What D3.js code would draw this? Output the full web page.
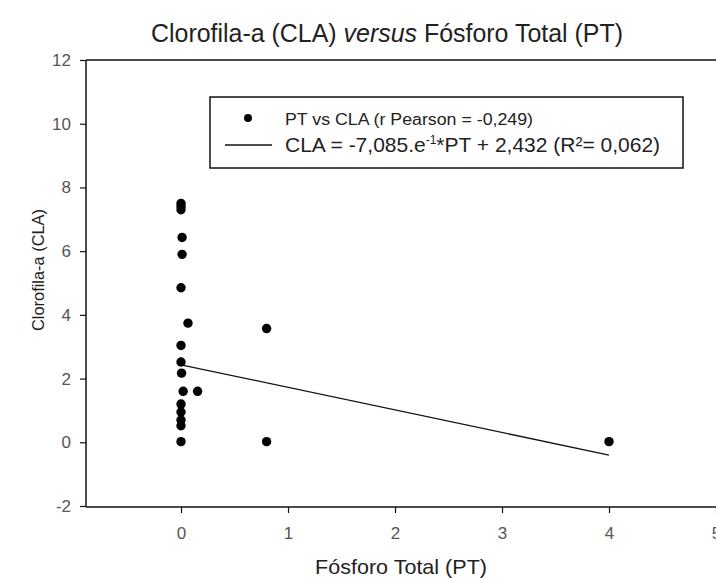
<!DOCTYPE html>
<html><head><meta charset="utf-8">
<script src="https://cdn.jsdelivr.net/npm/d3@7"></script>
<style>body{margin:0;background:#fff}svg{display:block}text{font-family:"Liberation Sans",Arial,sans-serif}</style>
</head><body><svg id="c" width="716" height="578"></svg>
<script>
const ptValues  = [0, 0, 0, 0.01, 0.01, 0, 0.065, 0, 0, 0.005, 0.02, 0.155, 0, 0, 0, 0, 0, 0.8, 0.8, 4.0];
const claValues = [7.5, 7.3, 7.4, 6.43, 5.9, 4.85, 3.74, 3.04, 2.52, 2.17, 1.6, 1.6, 1.2, 0.95, 0.7, 0.52, 0.02, 3.57, 0.02, 0.02];
const fitSlope = -0.7085, fitIntercept = 2.432;
const fitRange = [0, 4];
const xTicks = [0, 1, 2, 3, 4, 5];
const yTicks = [-2, 0, 2, 4, 6, 8, 10, 12];

const svg = d3.select("#c");
const x = d3.scaleLinear().domain([-0.888, 5]).range([86, 716]);
const y = d3.scaleLinear().domain([-2, 12]).range([506, 60]);
const fmt = d => String(d);

// title
const t = svg.append("text").attr("x", 387).attr("y", 42).attr("text-anchor", "middle")
  .attr("font-size", 25).attr("fill", "#222").attr("textLength", 472).attr("lengthAdjust", "spacingAndGlyphs");
t.append("tspan").text("Clorofila-a (CLA) ");
t.append("tspan").attr("font-style", "italic").text("versus");
t.append("tspan").text(" Fósforo Total (PT)");

// frame top
svg.append("line").attr("x1", 86).attr("x2", 716).attr("y1", 60).attr("y2", 60).attr("stroke", "#111").attr("stroke-width", 1.5);

// axes
const xAxis = svg.append("g").attr("transform", "translate(0,507)")
  .call(d3.axisBottom(x).tickValues(xTicks).tickSize(6).tickPadding(14).tickFormat(fmt));
const yAxis = svg.append("g").attr("transform", "translate(86,0)")
  .call(d3.axisLeft(y).tickValues(yTicks).tickSize(6).tickPadding(9).tickFormat(fmt));
[xAxis, yAxis].forEach(g => {
  g.select(".domain").attr("stroke", "#111").attr("stroke-width", 1.5);
  g.selectAll(".tick line").attr("stroke", "#111").attr("stroke-width", 1.2);
  g.selectAll(".tick text").attr("font-size", 17).attr("fill", "#555").style("font-family", '"Liberation Sans",Arial,sans-serif');
});
xAxis.select(".domain").attr("d", "M86,0H716");
yAxis.select(".domain").attr("d", "M0,60V507");

// axis titles
svg.append("text").attr("x", 401).attr("y", 574).attr("text-anchor", "middle").attr("font-size", 21).attr("fill", "#222")
  .attr("textLength", 172).attr("lengthAdjust", "spacingAndGlyphs").text("Fósforo Total (PT)");
svg.append("text").attr("transform", "translate(44,270) rotate(-90)").attr("text-anchor", "middle").attr("font-size", 17).attr("fill", "#222")
  .attr("textLength", 122).attr("lengthAdjust", "spacingAndGlyphs").text("Clorofila-a (CLA)");

// fit line
svg.append("line")
  .attr("x1", x(fitRange[0])).attr("y1", y(fitSlope * fitRange[0] + fitIntercept))
  .attr("x2", x(fitRange[1])).attr("y2", y(fitSlope * fitRange[1] + fitIntercept))
  .attr("stroke", "#111").attr("stroke-width", 1.3);

// points
svg.append("g").selectAll("circle").data(ptValues.map((p, i) => [p, claValues[i]])).join("circle")
  .attr("cx", d => x(d[0])).attr("cy", d => y(d[1])).attr("r", 4.7).attr("fill", "#000");

// legend
const lg = svg.append("g");
lg.append("rect").attr("x", 210).attr("y", 97).attr("width", 473).attr("height", 71).attr("fill", "#fff").attr("stroke", "#111").attr("stroke-width", 1.5);
lg.append("circle").attr("cx", 248).attr("cy", 118).attr("r", 4).attr("fill", "#000");
lg.append("text").attr("x", 285).attr("y", 125).attr("font-size", 16).attr("fill", "#222")
  .attr("textLength", 248).attr("lengthAdjust", "spacingAndGlyphs").text("PT vs CLA (r Pearson = -0,249)");
lg.append("line").attr("x1", 225).attr("x2", 272).attr("y1", 145).attr("y2", 145).attr("stroke", "#111").attr("stroke-width", 1.3);
const l2 = lg.append("text").attr("x", 285).attr("y", 152).attr("font-size", 21).attr("fill", "#222");
l2.append("tspan").text("CLA = -7,085.e");
l2.append("tspan").attr("font-size", 12).attr("dy", -8).text("-1");
l2.append("tspan").attr("dy", 8).text("*PT + 2,432 (R²= 0,062)");
</script></body></html>
